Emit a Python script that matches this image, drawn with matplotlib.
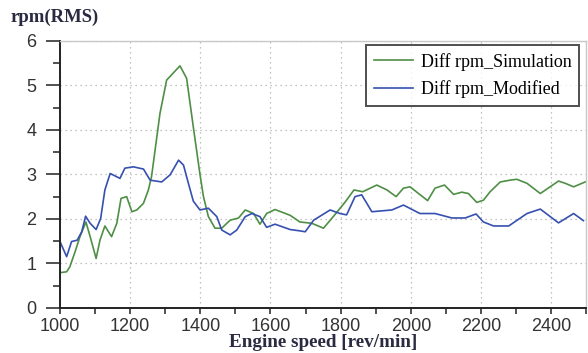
import numpy as np
import matplotlib.pyplot as plt
from matplotlib.ticker import MultipleLocator

# Diff rpm_Simulation (green)
sim_x = [1000, 1019, 1028, 1043, 1057, 1074, 1086, 1103, 1114, 1128, 1147, 1162,
         1174, 1190, 1205, 1219, 1238, 1252, 1261, 1285, 1304, 1342, 1361, 1380,
         1399, 1409, 1423, 1442, 1461, 1485, 1509, 1528, 1552, 1570, 1589, 1613,
         1656, 1684, 1718, 1751, 1779, 1813, 1838, 1863, 1903, 1932, 1958, 1979,
         1998, 2022, 2048, 2069, 2096, 2122, 2145, 2164, 2188, 2207, 2226, 2255,
         2283, 2302, 2331, 2369, 2397, 2421, 2440, 2464, 2497]
sim_y = [0.79, 0.81, 0.92, 1.26, 1.60, 1.93, 1.60, 1.11, 1.52, 1.84, 1.60, 1.90,
         2.46, 2.50, 2.16, 2.20, 2.35, 2.65, 2.95, 4.37, 5.12, 5.44, 5.16, 4.07,
         3.00, 2.50, 2.05, 1.79, 1.79, 1.97, 2.02, 2.20, 2.12, 1.88, 2.12, 2.21,
         2.08, 1.93, 1.90, 1.79, 2.05, 2.38, 2.65, 2.61, 2.76, 2.65, 2.50, 2.69,
         2.72, 2.57, 2.41, 2.69, 2.76, 2.55, 2.60, 2.57, 2.37, 2.42, 2.61, 2.83,
         2.87, 2.89, 2.80, 2.57, 2.72, 2.85, 2.80, 2.72, 2.83]

# Diff rpm_Modified (blue)
mod_x = [1000, 1019, 1033, 1049, 1062, 1073, 1086, 1103, 1116, 1128, 1143, 1171,
         1185, 1209, 1238, 1257, 1290, 1314, 1338, 1352, 1366, 1380, 1399, 1423,
         1447, 1461, 1485, 1504, 1528, 1547, 1570, 1589, 1613, 1656, 1684, 1699,
         1723, 1770, 1798, 1817, 1841, 1860, 1889, 1946, 1979, 2026, 2069, 2117,
         2155, 2186, 2207, 2236, 2279, 2331, 2369, 2421, 2464, 2492]
mod_y = [1.49, 1.15, 1.49, 1.52, 1.71, 2.06, 1.90, 1.76, 2.01, 2.65, 3.02, 2.91,
         3.14, 3.17, 3.12, 2.87, 2.83, 2.99, 3.32, 3.21, 2.80, 2.40, 2.20, 2.24,
         2.05, 1.75, 1.64, 1.75, 2.05, 2.12, 2.05, 1.81, 1.88, 1.76, 1.73, 1.71,
         1.97, 2.20, 2.12, 2.09, 2.50, 2.54, 2.16, 2.20, 2.31, 2.12, 2.12, 2.02,
         2.02, 2.11, 1.93, 1.84, 1.84, 2.12, 2.22, 1.91, 2.12, 1.96]

fig = plt.figure(figsize=(5.88, 3.53), dpi=100)
ax = fig.add_axes([0.102, 0.128, 0.895, 0.756])

ax.plot(sim_x, sim_y, color="#4e8f45", lw=1.2, label="Diff rpm_Simulation")
ax.plot(mod_x, mod_y, color="#3650b0", lw=1.2, label="Diff rpm_Modified")

ax.set_xlim(1000, 2500)
ax.set_ylim(0, 6)
ax.xaxis.set_major_locator(MultipleLocator(200))
ax.xaxis.set_minor_locator(MultipleLocator(100))
ax.yaxis.set_major_locator(MultipleLocator(1))
ax.yaxis.set_minor_locator(MultipleLocator(0.5))
ax.grid(True, which="major", color="#b0b0b0", ls=(0, (1, 3)), lw=0.9)

for s in ["left", "bottom"]:
    ax.spines[s].set_color("#222222")
    ax.spines[s].set_linewidth(1.4)
for s in ["top", "right"]:
    ax.spines[s].set_color("#c8c8c8")
    ax.spines[s].set_linewidth(1.0)

ax.tick_params(axis="y", which="major", length=10, width=1.2, pad=7,
               labelsize=13, colors="#333333")
ax.tick_params(axis="y", which="minor", length=5, width=1.2, colors="#333333")
ax.tick_params(axis="x", which="both", length=4.5, width=1.2, pad=3,
               labelsize=13, colors="#333333")
for lab in ax.get_xticklabels() + ax.get_yticklabels():
    lab.set_family("Liberation Sans")

ax.set_xlabel("Engine speed [rev/min]", family="Liberation Serif",
              fontweight="bold", fontsize=13.8, color="#2a2a40", labelpad=-1)
fig.text(0.017, 0.95, "rpm(RMS)", family="Liberation Serif", fontweight="bold",
         fontsize=13.5, color="#2a2a40", va="center")

leg = ax.legend(loc="upper right", bbox_to_anchor=(0.994, 1.0),
                borderaxespad=0.2,
                prop={"family": "Liberation Serif", "size": 13},
                frameon=True, fancybox=False, handlelength=2.2,
                borderpad=0.45, labelspacing=0.55, handletextpad=0.4)
leg.get_frame().set_edgecolor("#222222")
leg.get_frame().set_linewidth(1.4)

fig.savefig("out.png", dpi=100)
